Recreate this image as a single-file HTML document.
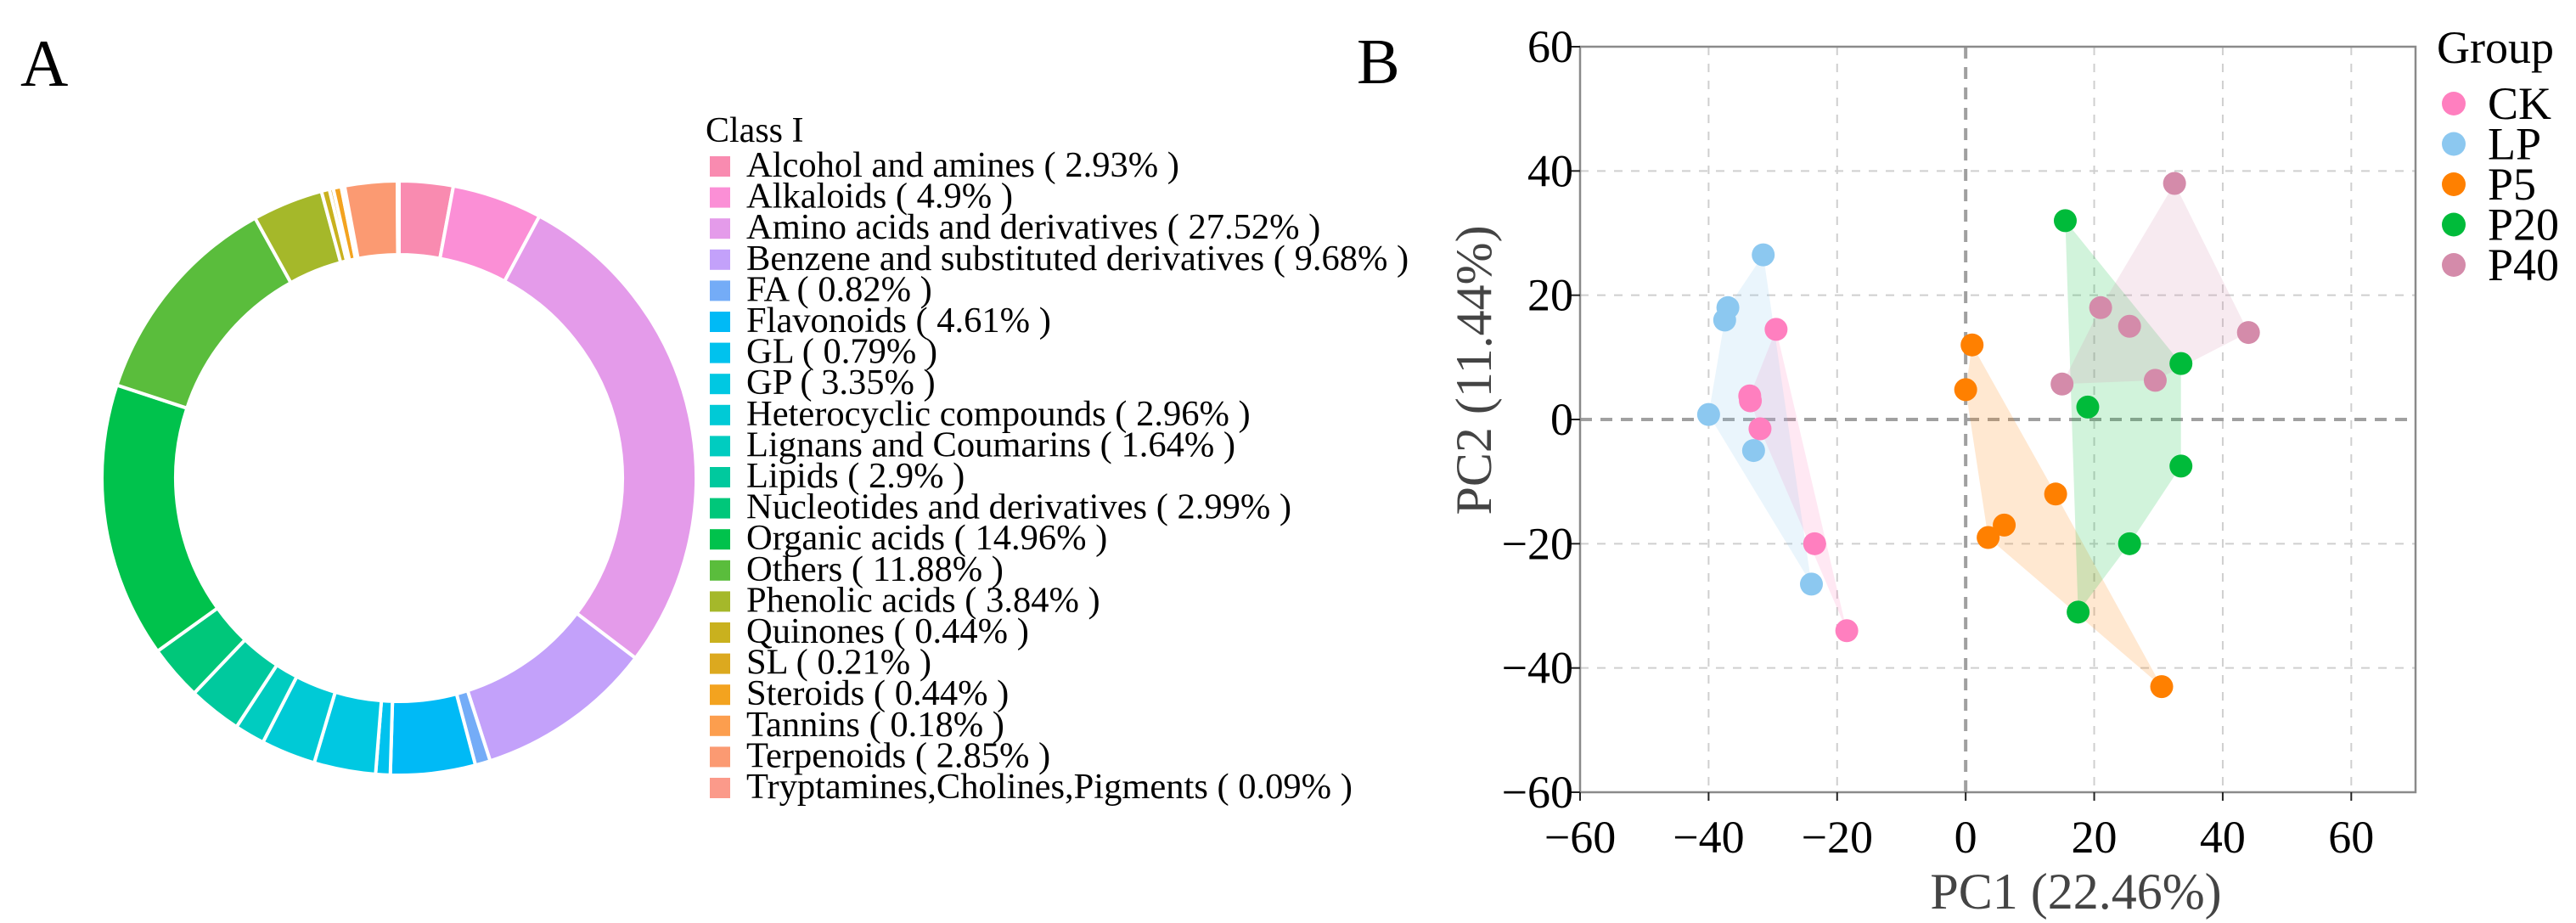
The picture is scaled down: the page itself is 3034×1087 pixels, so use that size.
<!DOCTYPE html>
<html><head><meta charset="utf-8"><style>
html,body{margin:0;padding:0;background:#fff;}
svg{display:block;font-family:"Liberation Serif",serif;}
</style></head><body>
<svg id="fig" width="3034" height="1087" viewBox="0 0 3034 1087" xmlns="http://www.w3.org/2000/svg">
<text x="24" y="101" font-size="78">A</text>
<text x="1598" y="98" font-size="76">B</text>
<g id="donut"></g>
<g id="legA"></g>
<g id="pca"></g>
</svg>
<script>
const NS="http://www.w3.org/2000/svg";
function mk(tag,attrs,parent){const e=document.createElementNS(NS,tag);for(const k in attrs)e.setAttribute(k,attrs[k]);parent.appendChild(e);return e;}

// ---- Donut data ----
const classNames=["Alcohol and amines","Alkaloids","Amino acids and derivatives","Benzene and substituted derivatives","FA","Flavonoids","GL","GP","Heterocyclic compounds","Lignans and Coumarins","Lipids","Nucleotides and derivatives","Organic acids","Others","Phenolic acids","Quinones","SL","Steroids","Tannins","Terpenoids","Tryptamines,Cholines,Pigments"];
const classPct=[2.93,4.9,27.52,9.68,0.82,4.61,0.79,3.35,2.96,1.64,2.9,2.99,14.96,11.88,3.84,0.44,0.21,0.44,0.18,2.85,0.09];
const classColors=["#F98BB0","#FB8FD6","#E49BEA","#C3A1FA","#74ACF7","#00BAF6","#00C2EE","#00C8E2","#00CAD6","#00CCC0","#00C99E","#00C77A","#00C24C","#5ABD3C","#A5B82A","#C9B11E","#DCA91F","#F3A31F","#FC9E4E","#FB9A72","#FB9A8A"];
(function(){
  const g=document.getElementById('donut');
  const cx=470,cy=563,R=350,r=263;
  const tot=classPct.reduce((a,b)=>a+b,0);
  let a0=0;
  classPct.forEach((v,i)=>{
    const a1=a0+v/tot*2*Math.PI;
    const p=(a,rad)=>[cx+rad*Math.sin(a),cy-rad*Math.cos(a)];
    const [x0,y0]=p(a0,R),[x1,y1]=p(a1,R),[x2,y2]=p(a1,r),[x3,y3]=p(a0,r);
    const lg=(a1-a0)>Math.PI?1:0;
    const s=mk('path',{d:`M${x0},${y0}A${R},${R} 0 ${lg} 1 ${x1},${y1}L${x2},${y2}A${r},${r} 0 ${lg} 0 ${x3},${y3}Z`,fill:classColors[i],stroke:'#fff','stroke-width':4},g);
    
    
    a0=a1;
  });
  const L=document.getElementById('legA');
  const t=mk('text',{x:831,y:167,'font-size':42},L);t.textContent='Class I';
  
  
  classNames.forEach((n,i)=>{
    const y=208+i*36.6;
    const sq=mk('rect',{x:836,y:y-24,width:24,height:24,fill:classColors[i]},L);
    
    
    const tx=mk('text',{x:879,y:y,'font-size':42.5},L);
    tx.textContent=n+' ( '+classPct[i]+'% )';
    
    
  });
})();

// ---- PCA data ----
const groups=["CK","LP","P5","P20","P40"];
const groupColors=["#FF7FBF","#8CC8F0","#FF8000","#00BB3A","#D48BAA"];
const ckX=[-33.5,-29.5,-32,-23.5,-18.5,-33.6], ckY=[3,14.5,-1.5,-20,-34,3.8];
const lpX=[-31.5,-37,-37.5,-40,-33,-24], lpY=[26.5,18,16,0.8,-5,-26.5];
const p5X=[1,0,14,6,3.5,30.5], p5Y=[12,4.8,-12,-17,-19,-43];
const p20X=[15.5,19,33.5,33.5,25.5,17.5], p20Y=[32,2,9,-7.5,-20,-31];
const p40X=[32.5,21,25.5,44,15,29.5], p40Y=[38,18,15,14,5.7,6.3];
const xTicks=[-60,-40,-20,0,20,40,60];
const yTicks=[-60,-40,-20,0,20,40,60];
(function(){
  const g=document.getElementById('pca');
  const L=1861,Rr=2845,T=55,B=933,xmin=-60,xmax=70,ymin=-60,ymax=60;
  const sx=v=>L+(v-xmin)/(xmax-xmin)*(Rr-L);
  const sy=v=>B-(v-ymin)/(ymax-ymin)*(B-T);
  xTicks.forEach(v=>{if(v===xmin)return;const l=mk('line',{x1:sx(v),x2:sx(v),y1:T,y2:B,stroke:v===0?'#a0a0a0':'#cfcfcf','stroke-width':v===0?4:2,'stroke-dasharray':v===0?'14 10':'10 10'},g);
    });
  yTicks.forEach(v=>{if(v===ymin||v===ymax)return;const l=mk('line',{x1:L,x2:Rr,y1:sy(v),y2:sy(v),stroke:v===0?'#a0a0a0':'#cfcfcf','stroke-width':v===0?4:2,'stroke-dasharray':v===0?'14 10':'10 10'},g);
    });
  const data=[[ckX,ckY],[lpX,lpY],[p5X,p5Y],[p20X,p20Y],[p40X,p40Y]];
  function hull(pts){pts=pts.slice().sort((a,b)=>a[0]-b[0]||a[1]-b[1]);const cr=(o,a,b)=>(a[0]-o[0])*(b[1]-o[1])-(a[1]-o[1])*(b[0]-o[0]);const lo=[],up=[];
    for(const p of pts){while(lo.length>=2&&cr(lo[lo.length-2],lo[lo.length-1],p)<=0)lo.pop();lo.push(p);}
    for(const p of pts.slice().reverse()){while(up.length>=2&&cr(up[up.length-2],up[up.length-1],p)<=0)up.pop();up.push(p);}
    return lo.slice(0,-1).concat(up.slice(0,-1));}
  data.forEach((d,gi)=>{
    const pts=d[0].map((x,i)=>[sx(x),sy(d[1][i])]);
    const h=hull(pts);
    const poly=mk('polygon',{points:h.map(p=>p.join(',')).join(' '),fill:groupColors[gi],'fill-opacity':0.18},g);
    
    
  });
  data.forEach((d,gi)=>{
    d[0].forEach((x,i)=>{
      const c=mk('circle',{cx:sx(x),cy:sy(d[1][i]),r:13.5,fill:groupColors[gi]},g);
      
      
    });
  });
  const fr=mk('rect',{x:L,y:T,width:Rr-L,height:B-T,fill:'none',stroke:'#8a8a8a','stroke-width':2.5},g);
  
  xTicks.forEach(v=>{
    const tk=mk('line',{x1:sx(v),x2:sx(v),y1:B,y2:B+10,stroke:'#222','stroke-width':2},g);
    
    const t=mk('text',{x:sx(v),y:1004,'font-size':54,'text-anchor':'middle'},g);
    t.textContent=(v<0?'\u2212':'')+Math.abs(v);
    
  });
  yTicks.forEach(v=>{
    const tk=mk('line',{x1:L-12,x2:L,y1:sy(v),y2:sy(v),stroke:'#222','stroke-width':2},g);
    
    const t=mk('text',{x:L-8,y:sy(v)+18,'font-size':54,'text-anchor':'end'},g);
    t.textContent=(v<0?'\u2212':'')+Math.abs(v);
    
  });
  const xt=mk('text',{x:2445,y:1070,'font-size':60,'text-anchor':'middle',fill:'#444'},g);
  xt.textContent='PC1 (22.46%)';
  
  const yt=mk('text',{x:0,y:0,'font-size':60,'text-anchor':'middle',fill:'#444',transform:'translate(1756,436) rotate(-90)'},g);
  yt.textContent='PC2 (11.44%)';
  
  const gt=mk('text',{x:2870,y:74,'font-size':54},g);
  gt.textContent='Group';
  
  groups.forEach((n,i)=>{
    const y=122+i*47.5;
    const c=mk('circle',{cx:2890,cy:y,r:14,fill:groupColors[i]},g);
    
    const t=mk('text',{x:2930,y:y+18,'font-size':54},g);
    t.textContent=n;
    
  });
})();
</script>
</body></html>
